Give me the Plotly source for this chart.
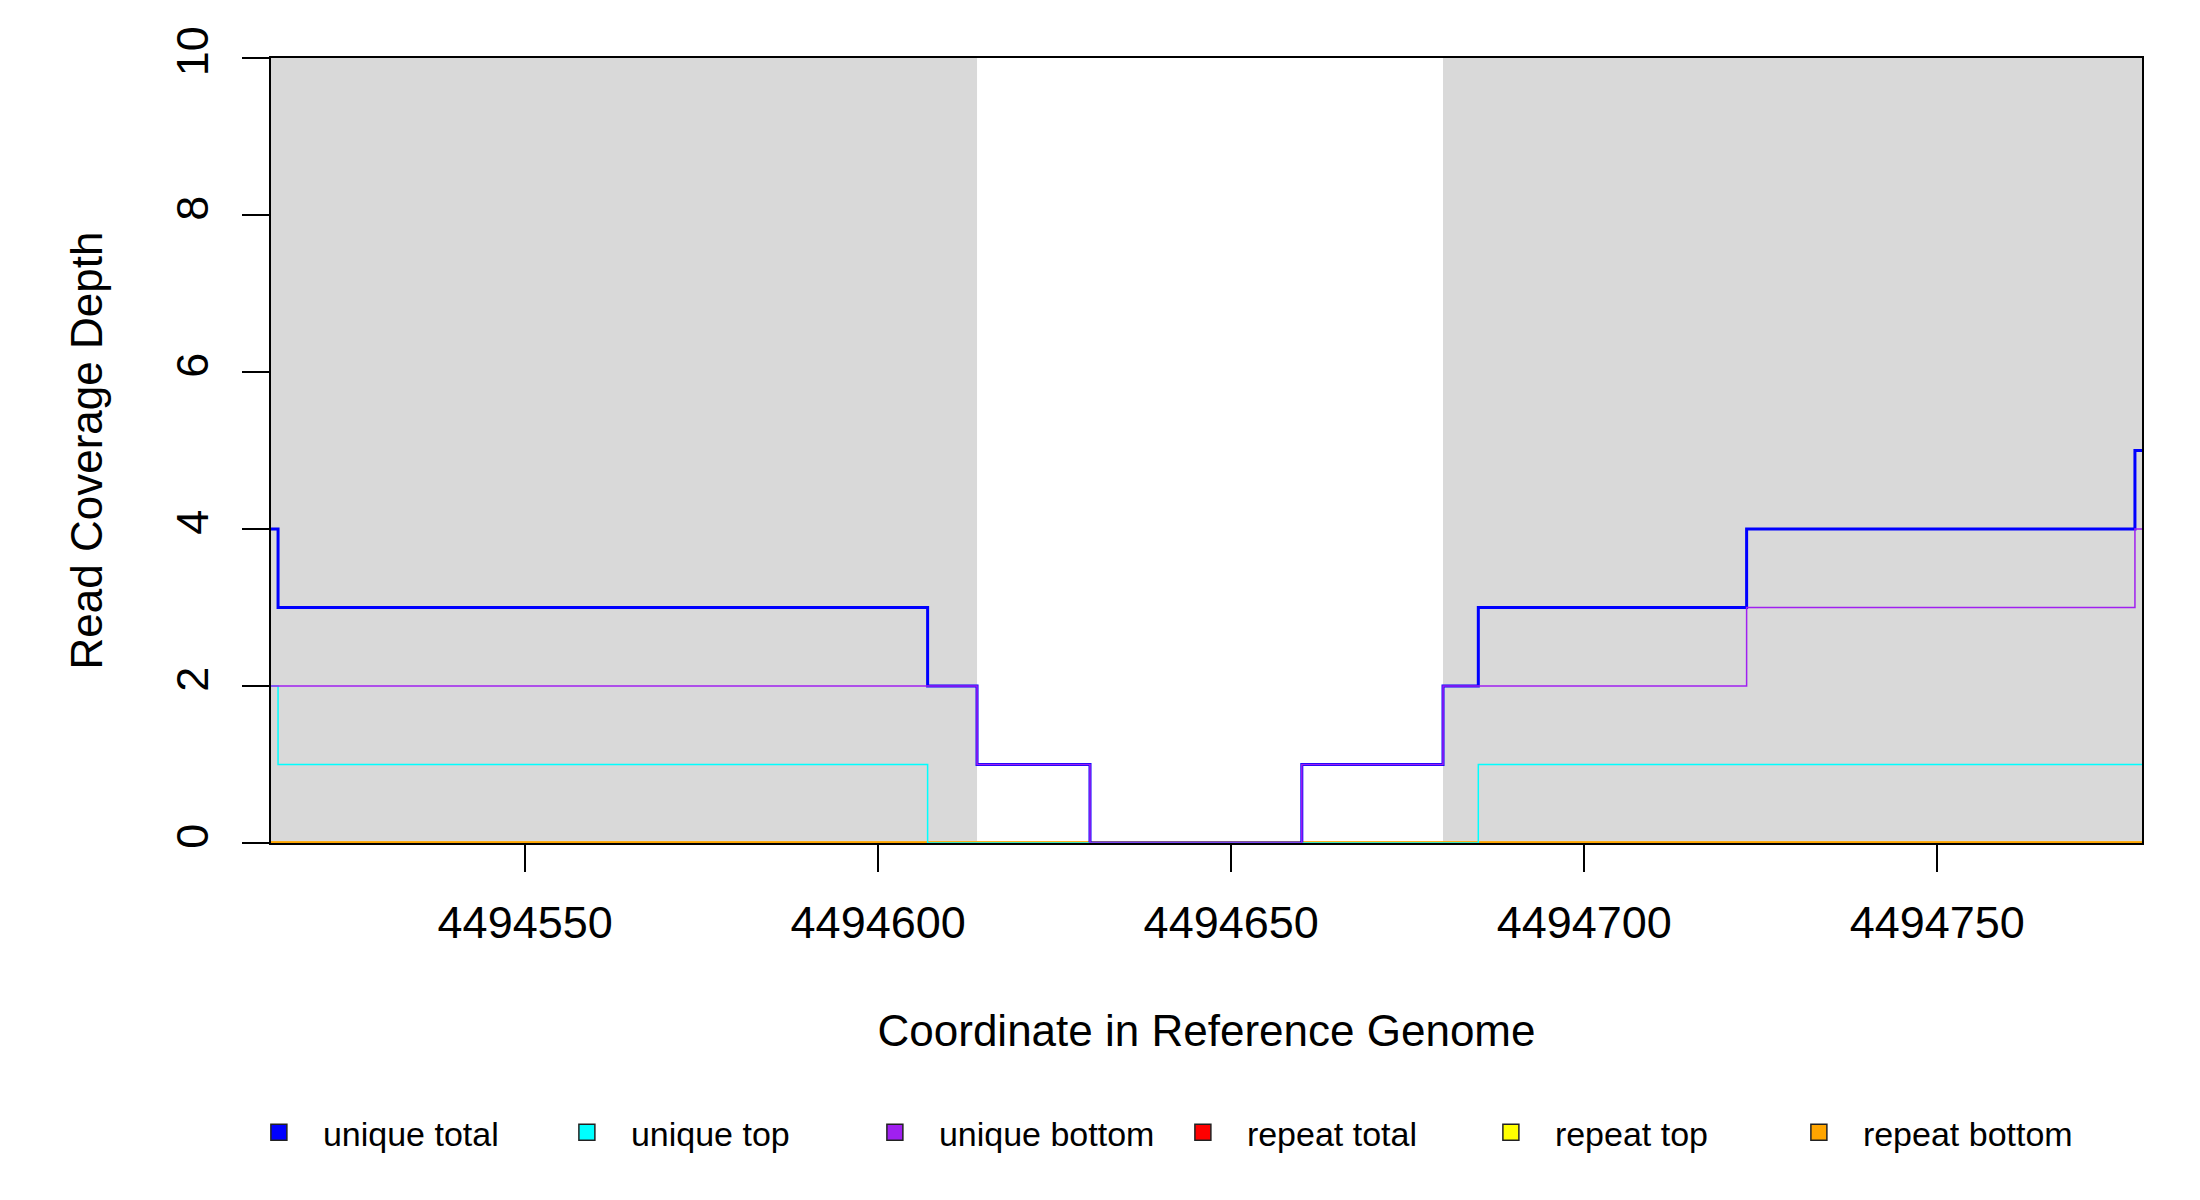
import plotly.graph_objects as go

# ---- data ----
positions = [4494514, 4494515, 4494607, 4494614, 4494630, 4494660,
             4494680, 4494685, 4494723, 4494778, 4494779]
unique_total = [4, 3, 2, 1, 0, 1, 2, 3, 4, 5, 5]
unique_top = [2, 1, 0, 0, 0, 0, 0, 1, 1, 1, 1]
unique_bottom = [2, 2, 2, 1, 0, 1, 2, 2, 3, 4, 4]
repeat_total = [0, 0, 0, 0, 0, 0, 0, 0, 0, 0, 0]
repeat_top = [0, 0, 0, 0, 0, 0, 0, 0, 0, 0, 0]
repeat_bottom = [0, 0, 0, 0, 0, 0, 0, 0, 0, 0, 0]

shaded_starts = [4494514, 4494680]
shaded_ends = [4494614, 4494779]

x_range = [4494514, 4494779]
y_range = [0, 10]
x_ticks = [4494550, 4494600, 4494650, 4494700, 4494750]
y_ticks = [0, 2, 4, 6, 8, 10]

series_names = ["unique total", "unique top", "unique bottom",
                "repeat total", "repeat top", "repeat bottom"]
series_colors = ["#0000FF", "#00FFFF", "#A020F0", "#FF0000", "#FFFF00", "#FFA500"]

FONT = "Liberation Sans, Arial, Helvetica, sans-serif"

fig = go.Figure()

# draw order: repeat lines first, then unique lines
draw = [
    (3, repeat_total, 3.0),
    (4, repeat_top, 3.0),
    (5, repeat_bottom, 3.0),
    (0, unique_total, 3.0),
    (1, unique_top, 1.5),
    (2, unique_bottom, 1.5),
]
for idx, vals, w in draw:
    fig.add_trace(go.Scatter(
        x=positions, y=vals, mode="lines", line_shape="hv",
        line=dict(color=series_colors[idx], width=w),
        showlegend=False, hoverinfo="skip", name=series_names[idx]))

# legend entries (filled squares)
for name, col in zip(series_names, series_colors):
    fig.add_trace(go.Scatter(
        x=[None], y=[None], mode="markers", name=name,
        marker=dict(symbol="square", size=16, color=col,
                    line=dict(color="#222222", width=1.5))))

for s, e in zip(shaded_starts, shaded_ends):
    fig.add_shape(type="rect", xref="x", yref="y", x0=s, x1=e,
                  y0=y_range[0], y1=y_range[1], fillcolor="#D9D9D9",
                  line=dict(width=0), layer="below")

fig.update_layout(
    width=2192, height=1192, autosize=False,
    margin=dict(l=263, r=58, t=50, b=357),
    paper_bgcolor="white", plot_bgcolor="white",
    font=dict(family=FONT, color="black", size=44),
    legend=dict(orientation="h", x=-0.0193, xanchor="left", y=-0.369,
                yanchor="middle", font=dict(size=34),
                entrywidth=215, entrywidthmode="pixels", itemwidth=78,
                bgcolor="rgba(0,0,0,0)", itemsizing="trace"),
)

fig.update_xaxes(
    range=x_range, tickvals=x_ticks, ticktext=[str(v) for v in x_ticks],
    ticks="outside", ticklen=27, tickwidth=1.5, tickcolor="black",
    showgrid=False, zeroline=False, showline=True, mirror=True,
    linecolor="black", linewidth=1.5, layer="below traces",
    tickfont=dict(size=45), ticklabelstandoff=12,
    title=dict(text="Coordinate in Reference Genome", font=dict(size=44),
               standoff=68))

fig.update_yaxes(
    range=y_range, tickvals=y_ticks, ticktext=[str(v) for v in y_ticks],
    ticks="outside", ticklen=27, tickwidth=1.5, tickcolor="black",
    showgrid=False, zeroline=False, showline=True, mirror=True,
    linecolor="black", linewidth=1.5, layer="below traces",
    tickangle=-90, tickfont=dict(size=45), ticklabelstandoff=16,
    title=dict(text="Read Coverage Depth", font=dict(size=44), standoff=51))

fig.write_html("out.html")
